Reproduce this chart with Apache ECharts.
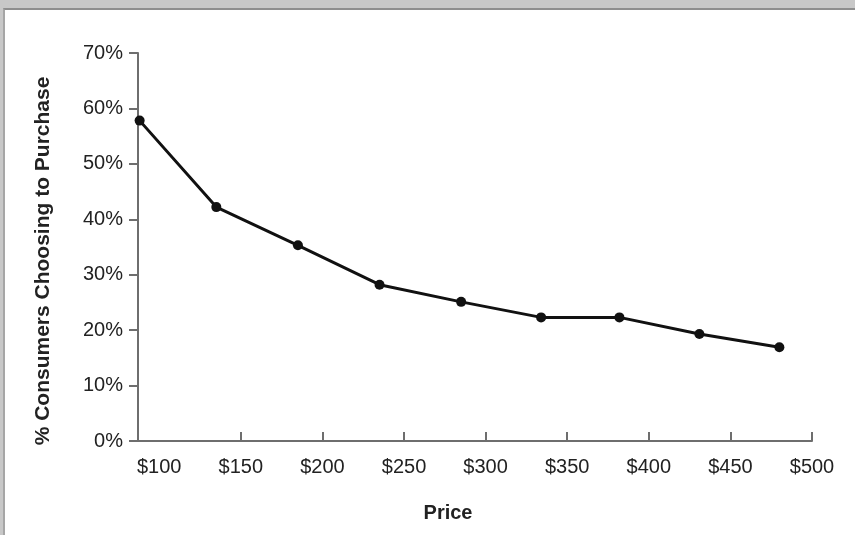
<!DOCTYPE html>
<html>
<head>
<meta charset="utf-8">
<script src="https://cdn.jsdelivr.net/npm/echarts@6/dist/echarts.min.js"></script>
<style>
  html, body { margin: 0; padding: 0; width: 855px; height: 535px; overflow: hidden; background: #c8c8c8; }
  #frame { position: absolute; left: 3px; top: 8px; width: 850px; height: 525px; background: #ffffff; border-top: 2px solid #8e8e8e; border-left: 2px solid #a6a6a6; }
  #chart { position: absolute; left: 0; top: 0; width: 855px; height: 535px; }
</style>
</head>
<body>
<div id="frame"></div>
<div id="chart"></div>
<script>
// Data
const prices = [88, 135, 185, 235, 285, 334, 382, 431, 480];
const purchasePct = [57.8, 42.2, 35.3, 28.2, 25.1, 22.3, 22.3, 19.3, 16.9];
const xLabelValues = [100, 150, 200, 250, 300, 350, 400, 450, 500];
const xTickValues = [150, 200, 250, 300, 350, 400, 450, 500];
const yTickValues = [0, 10, 20, 30, 40, 50, 60, 70];

const textColor = '#222222';
const axisColor = '#6e6e6e';
const font = '"Liberation Sans", Arial, Helvetica, sans-serif';

const chart = echarts.init(document.getElementById('chart'), null, { renderer: 'canvas' });
chart.setOption({
  backgroundColor: 'transparent',
  animation: false,
  grid: { left: 138, right: 43, top: 53, bottom: 94, containLabel: false },
  xAxis: {
    type: 'value',
    min: 87,
    max: 500,
    name: 'Price',
    nameLocation: 'middle',
    nameGap: 62,
    nameTextStyle: { color: textColor, fontFamily: font, fontSize: 20, fontWeight: 'bold', padding: [0, 54, 0, 0] },
    axisLine: { show: true, lineStyle: { color: axisColor, width: 2 } },
    axisTick: { show: true, inside: true, length: 9, lineStyle: { color: axisColor, width: 2 }, customValues: xTickValues },
    axisLabel: { color: textColor, fontFamily: font, fontSize: 20, margin: 16, customValues: xLabelValues, formatter: v => '$' + v },
    splitLine: { show: false }
  },
  yAxis: {
    type: 'value',
    min: 0,
    max: 70,
    interval: 10,
    name: '% Consumers Choosing to Purchase',
    nameLocation: 'middle',
    nameGap: 84,
    nameRotate: 90,
    nameTextStyle: { color: textColor, fontFamily: font, fontSize: 21, fontWeight: 'bold', padding: [0, 28, 0, 0] },
    axisLine: { show: true, lineStyle: { color: axisColor, width: 2 } },
    axisTick: { show: true, inside: false, length: 9, lineStyle: { color: axisColor, width: 2 }, customValues: yTickValues },
    axisLabel: { color: textColor, fontFamily: font, fontSize: 20, margin: 15, formatter: v => v + '%' },
    splitLine: { show: false }
  },
  series: [{
    type: 'line',
    data: prices.map((p, i) => [p, purchasePct[i]]),
    symbol: 'circle',
    symbolSize: 10,
    lineStyle: { color: '#111111', width: 3 },
    itemStyle: { color: '#111111' },
    z: 3
  }]
});
</script>
</body>
</html>
